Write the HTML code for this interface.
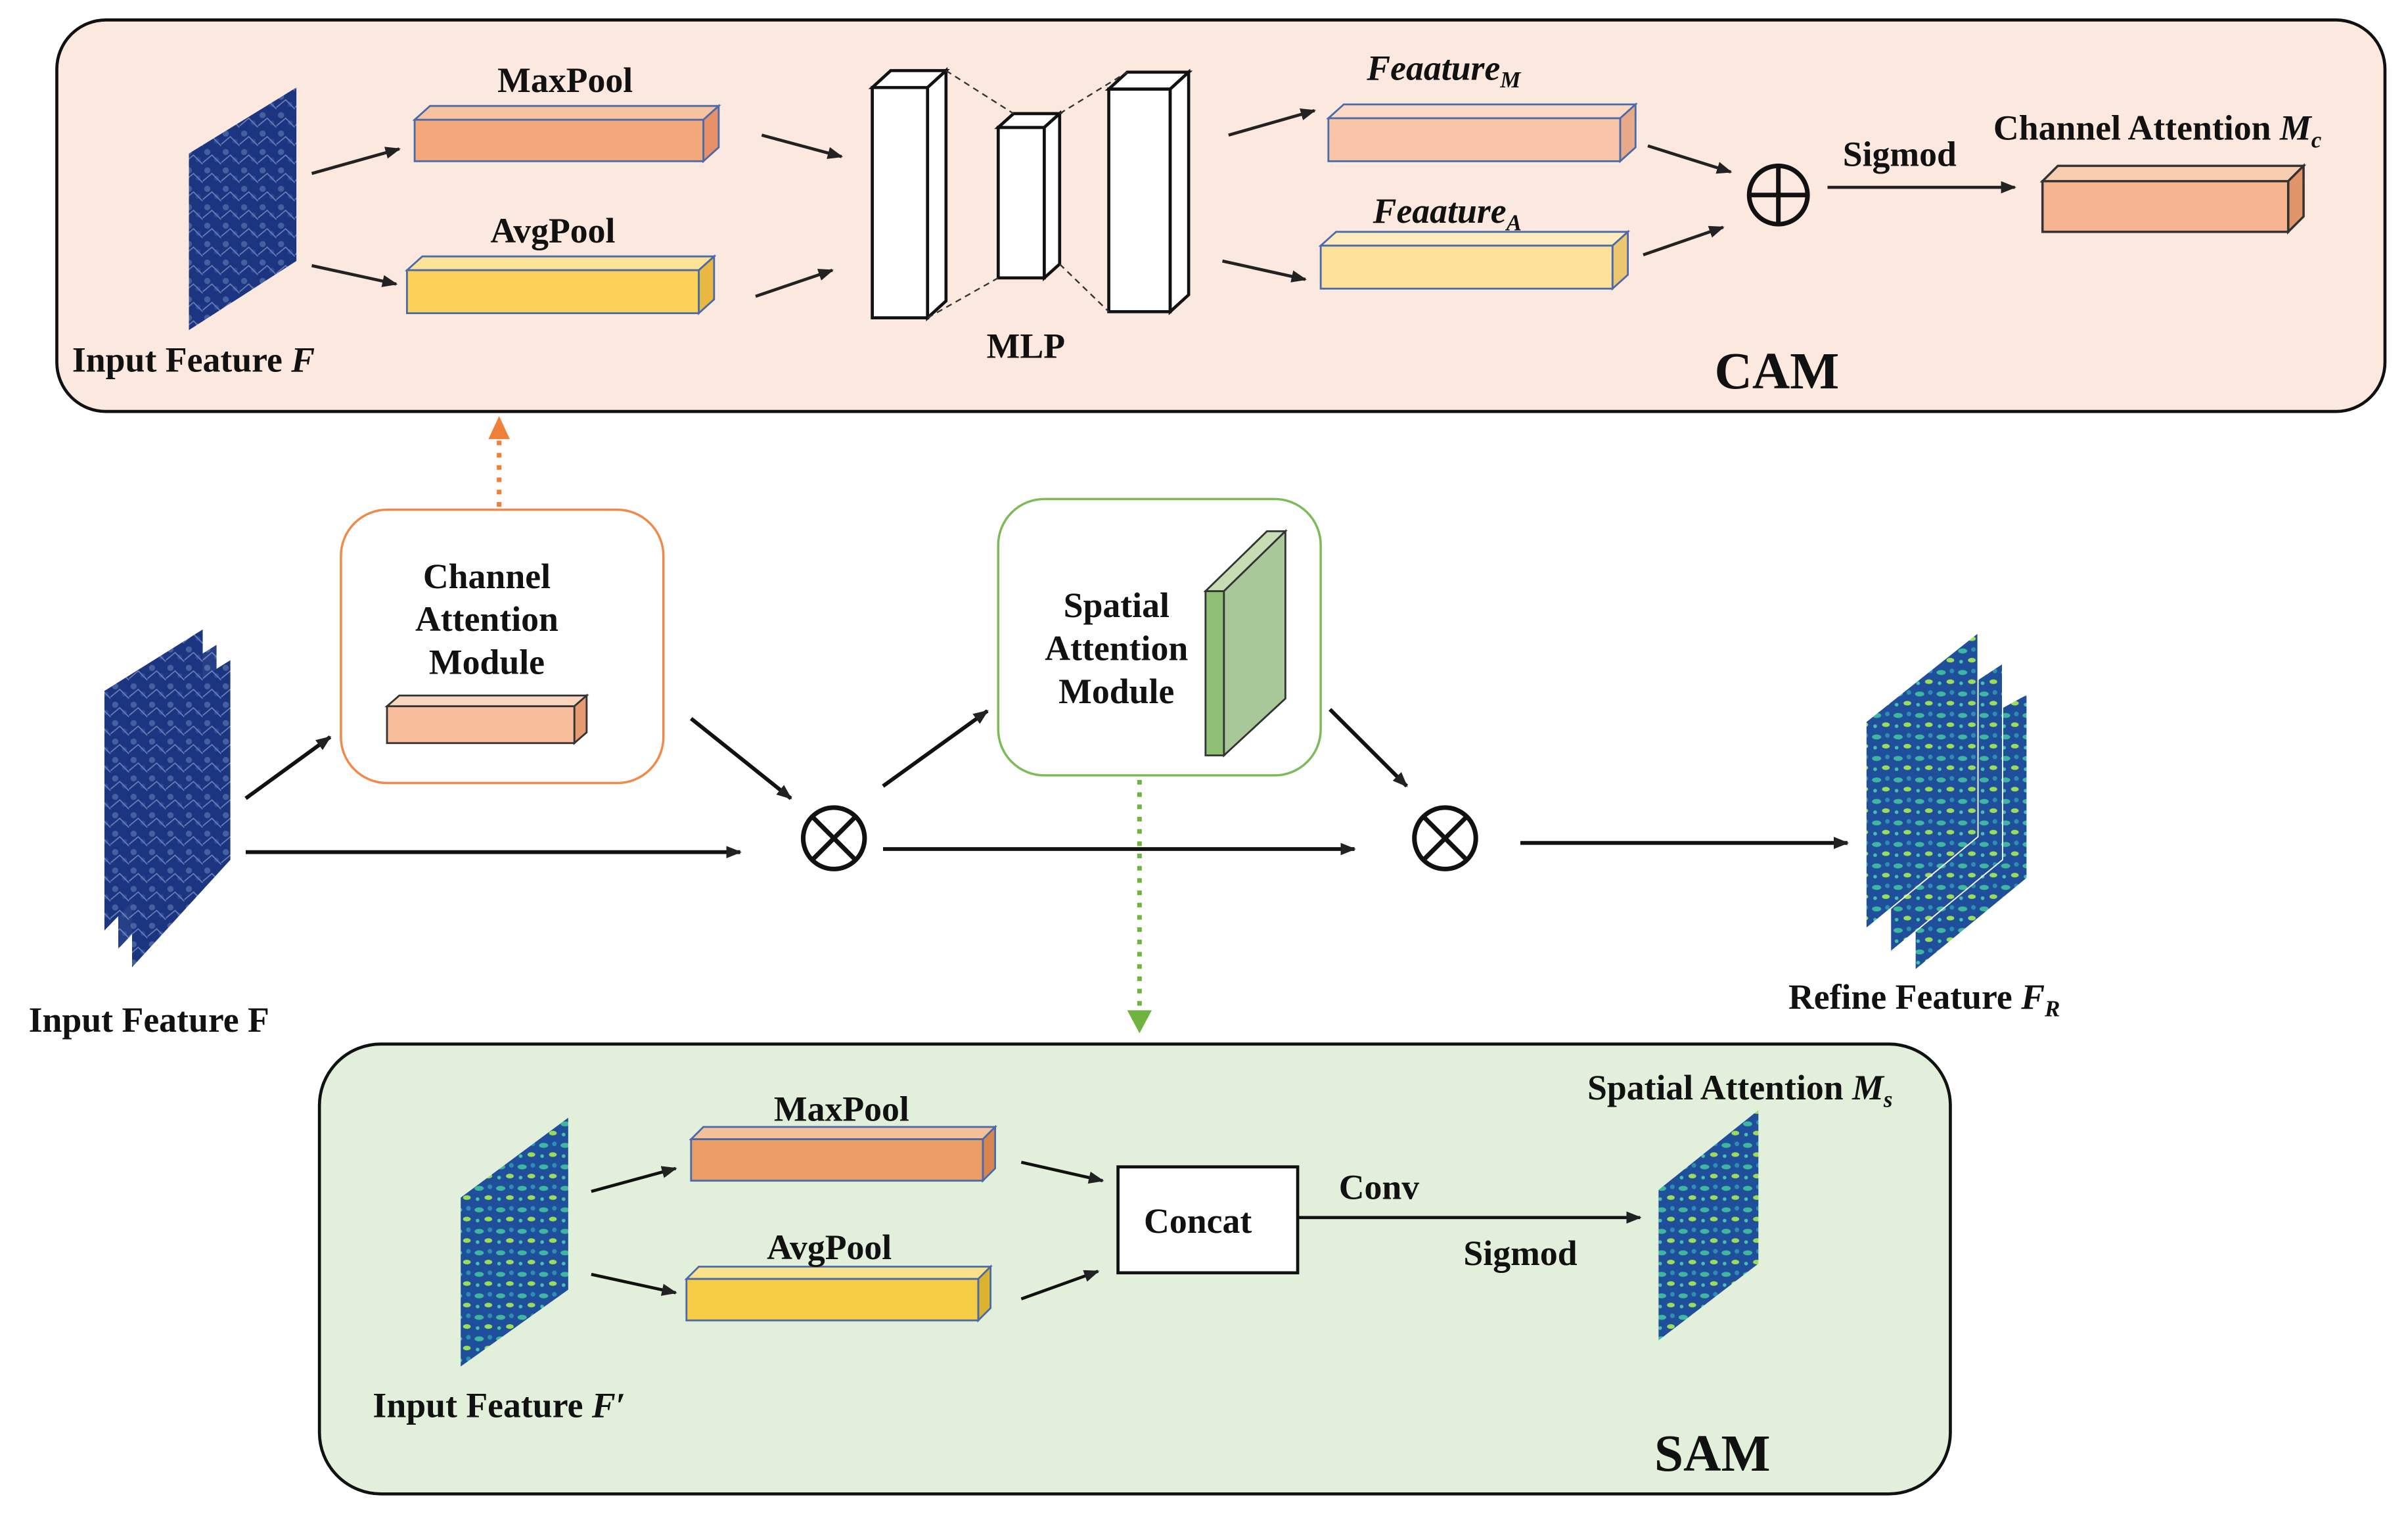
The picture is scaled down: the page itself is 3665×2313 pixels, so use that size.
<!DOCTYPE html>
<html><head><meta charset="utf-8"><style>
html,body{margin:0;padding:0;background:#fff;}
svg{display:block;}
text{font-family:"Liberation Serif",serif;font-weight:bold;fill:#111;}
</style></head><body>
<svg width="3665" height="2313" viewBox="0 0 1568 990" preserveAspectRatio="none" xmlns="http://www.w3.org/2000/svg">
<defs>
<marker id="ar" markerWidth="10" markerHeight="8" refX="9" refY="4" orient="auto" markerUnits="userSpaceOnUse"><path d="M0,0 L10,4 L0,8 z" fill="#222"/></marker>
<pattern id="fb" width="12" height="12" patternUnits="userSpaceOnUse">
<rect width="12" height="12" fill="#1c3580"/><circle cx="3" cy="3" r="2" fill="#45609f"/><circle cx="9" cy="8" r="1.6" fill="#2a4c98"/><path d="M0,10 L6,5 L12,11" stroke="#6f7fb8" stroke-width="0.7" fill="none"/></pattern>
<pattern id="fg" width="14" height="14" patternUnits="userSpaceOnUse">
<rect width="14" height="14" fill="#1f4f9a"/><ellipse cx="4" cy="4" rx="3" ry="1.6" fill="#3fb7a0"/><ellipse cx="10" cy="10" rx="2.5" ry="1.5" fill="#9bdc5a"/><circle cx="11" cy="3" r="1.5" fill="#2a8fb0"/><circle cx="3" cy="11" r="1.2" fill="#46c1b0"/></pattern>
</defs>
<g stroke-linecap="butt">
<!-- CAM -->
<rect x="37" y="13" width="1516" height="255" rx="32" fill="#fbe9e0" stroke="#111" stroke-width="2"/>
<polygon points="123,100 193,57 193,170 123,215" fill="url(#fb)"/>
<text x="47" y="242" font-size="23">Input Feature <tspan font-style="italic">F</tspan></text>
<g stroke="#4a6ba8" stroke-width="1.2">
<polygon points="270,78 458,78 468,69 280,69" fill="#f8c2a0"/><polygon points="458,78 468,69 468,96 458,105" fill="#e79068"/><rect x="270" y="78" width="188" height="27" fill="#f4a77a"/>
<polygon points="265,176 455,176 465,167 275,167" fill="#fde29a"/><polygon points="455,176 465,167 465,195 455,204" fill="#e8b840"/><rect x="265" y="176" width="190" height="28" fill="#fdd05a"/>
<polygon points="865,77 1055,77 1065,68 875,68" fill="#fbd9c4"/><polygon points="1055,77 1065,68 1065,96 1055,105" fill="#e8a88a"/><rect x="865" y="77" width="190" height="28" fill="#f8c5a8"/>
<polygon points="860,160 1050,160 1060,151 870,151" fill="#feecc0"/><polygon points="1050,160 1060,151 1060,179 1050,188" fill="#ecc670"/><rect x="860" y="160" width="190" height="28" fill="#fde19a"/>
</g>
<g stroke="#333" stroke-width="1.5">
<polygon points="1330,118 1490,118 1500,108 1340,108" fill="#f9cdb0"/><polygon points="1490,118 1500,108 1500,141 1490,151" fill="#e0946a"/><rect x="1330" y="118" width="160" height="33" fill="#f5b48f"/>
</g>
<text x="368" y="60" font-size="23" text-anchor="middle">MaxPool</text>
<text x="360" y="158" font-size="23" text-anchor="middle">AvgPool</text>
<g stroke="#222" stroke-width="2" marker-end="url(#ar)">
<line x1="203" y1="113" x2="260" y2="97"/><line x1="203" y1="173" x2="258" y2="185"/>
<line x1="496" y1="88" x2="548" y2="102"/><line x1="492" y1="193" x2="542" y2="176"/>
<line x1="800" y1="88" x2="856" y2="72"/><line x1="796" y1="170" x2="850" y2="182"/>
<line x1="1073" y1="95" x2="1127" y2="112"/><line x1="1070" y1="166" x2="1122" y2="148"/>
<line x1="1190" y1="122" x2="1312" y2="122"/>
</g>
<!-- MLP -->
<g stroke="#111" stroke-width="2" fill="#fff">
<rect x="568" y="57" width="36" height="150"/><polygon points="568,57 580,46 616,46 604,57"/><polygon points="604,57 616,46 616,196 604,207"/>
<rect x="650" y="83" width="30" height="98"/><polygon points="650,83 660,74 690,74 680,83"/><polygon points="680,83 690,74 690,172 680,181"/>
<rect x="722" y="58" width="40" height="145"/><polygon points="722,58 734,47 774,47 762,58"/><polygon points="762,58 774,47 774,192 762,203"/>
</g>
<g stroke="#333" stroke-width="1" stroke-dasharray="4,3">
<line x1="616" y1="46" x2="660" y2="74"/><line x1="604" y1="207" x2="650" y2="181"/>
<line x1="690" y1="74" x2="734" y2="47"/><line x1="690" y1="172" x2="722" y2="203"/>
</g>
<text x="668" y="233" font-size="23" text-anchor="middle">MLP</text>
<text x="890" y="52" font-size="23" font-style="italic">Feaature<tspan font-size="15" dy="5">M</tspan></text>
<text x="894" y="145" font-size="23" font-style="italic">Feaature<tspan font-size="15" dy="5">A</tspan></text>
<circle cx="1158" cy="127" r="19" fill="none" stroke="#111" stroke-width="3"/>
<line x1="1139" y1="127" x2="1177" y2="127" stroke="#111" stroke-width="3"/><line x1="1158" y1="108" x2="1158" y2="146" stroke="#111" stroke-width="3"/>
<text x="1237" y="108" font-size="23" text-anchor="middle">Sigmod</text>
<text x="1298" y="91" font-size="23">Channel Attention <tspan font-style="italic">M</tspan><tspan font-size="15" dy="5" font-style="italic">c</tspan></text>
<text x="1157" y="253" font-size="34" text-anchor="middle">CAM</text>

<!-- middle -->
<line x1="325" y1="330" x2="325" y2="285" stroke="#f07f3a" stroke-width="3" stroke-dasharray="3,5"/>
<polygon points="318,286 332,286 325,271" fill="#f07f3a"/>
<rect x="222" y="332" width="210" height="178" rx="30" fill="#fff" stroke="#f08a4b" stroke-width="1.5"/>
<text x="317" y="383" font-size="23" text-anchor="middle">Channel</text>
<text x="317" y="411" font-size="23" text-anchor="middle">Attention</text>
<text x="317" y="439" font-size="23" text-anchor="middle">Module</text>
<g stroke="#333" stroke-width="1.2"><polygon points="252,460 374,460 382,453 260,453" fill="#fbd6bf"/><polygon points="374,460 382,453 382,477 374,484" fill="#e69a72"/><rect x="252" y="460" width="122" height="24" fill="#f8bd9a"/></g>
<rect x="650" y="325" width="210" height="180" rx="30" fill="#fff" stroke="#7dbb5a" stroke-width="1.5"/>
<text x="727" y="402" font-size="23" text-anchor="middle">Spatial</text>
<text x="727" y="430" font-size="23" text-anchor="middle">Attention</text>
<text x="727" y="458" font-size="23" text-anchor="middle">Module</text>
<g stroke="#333" stroke-width="1.2"><polygon points="785,385 797,385 797,492 785,492" fill="#8fbf74"/><polygon points="785,385 825,346 837,346 797,385" fill="#c5dcb5"/><polygon points="797,385 837,346 837,455 797,492" fill="#a9c89a"/></g>
<polygon points="86,470 150,430 150,560 86,630" fill="url(#fb)"/>
<polygon points="77,460 141,420 141,550 77,618" fill="url(#fb)" opacity="0.95"/>
<polygon points="68,450 132,410 132,540 68,606" fill="url(#fb)"/>
<text x="97" y="672" font-size="23" text-anchor="middle">Input Feature F</text>
<g stroke="#111" stroke-width="2.5" marker-end="url(#ar)">
<line x1="160" y1="520" x2="215" y2="480"/><line x1="160" y1="555" x2="482" y2="555"/>
<line x1="450" y1="468" x2="515" y2="520"/><line x1="575" y1="512" x2="643" y2="463"/>
<line x1="575" y1="553" x2="882" y2="553"/><line x1="866" y1="462" x2="916" y2="512"/>
<line x1="990" y1="549" x2="1203" y2="549"/>
</g>
<g stroke="#111" stroke-width="3" fill="none">
<circle cx="543" cy="546" r="20"/><line x1="529" y1="532" x2="557" y2="560"/><line x1="557" y1="532" x2="529" y2="560"/>
<circle cx="941" cy="546" r="20"/><line x1="927" y1="532" x2="955" y2="560"/><line x1="955" y1="532" x2="927" y2="560"/>
</g>
<polygon points="1247,492 1320,452 1320,572 1247,632" fill="url(#fg)" stroke="#fff" stroke-width="0.8"/>
<polygon points="1231,480 1304,432 1304,560 1231,620" fill="url(#fg)" stroke="#fff" stroke-width="0.8"/>
<polygon points="1215,470 1288,412 1288,545 1215,605" fill="url(#fg)" stroke="#fff" stroke-width="0.8"/>
<text x="1253" y="657" font-size="23" text-anchor="middle">Refine Feature <tspan font-style="italic">F</tspan><tspan font-size="15" dy="5" font-style="italic">R</tspan></text>
<line x1="742" y1="508" x2="742" y2="658" stroke="#6fb43f" stroke-width="3" stroke-dasharray="3,5"/>
<polygon points="734,658 750,658 742,673" fill="#6fb43f"/>

<!-- SAM -->
<rect x="208" y="680" width="1062" height="293" rx="40" fill="#e2efda" stroke="#111" stroke-width="2"/>
<polygon points="300,780 370,728 370,840 300,890" fill="url(#fg)"/>
<text x="325" y="923" font-size="23" text-anchor="middle">Input Feature <tspan font-style="italic">F′</tspan></text>
<g stroke="#4a6ba8" stroke-width="1.2">
<polygon points="450,742 640,742 648,734 458,734" fill="#f3c09a"/><polygon points="640,742 648,734 648,761 640,769" fill="#d9864e"/><rect x="450" y="742" width="190" height="27" fill="#eb9e66"/>
<polygon points="447,833 637,833 645,825 455,825" fill="#fbe08a"/><polygon points="637,833 645,825 645,852 637,860" fill="#dcb330"/><rect x="447" y="833" width="190" height="27" fill="#f6cd44"/>
</g>
<text x="548" y="730" font-size="23" text-anchor="middle">MaxPool</text>
<text x="540" y="820" font-size="23" text-anchor="middle">AvgPool</text>
<g stroke="#111" stroke-width="2" marker-end="url(#ar)">
<line x1="385" y1="776" x2="440" y2="761"/><line x1="385" y1="830" x2="440" y2="842"/>
<line x1="665" y1="757" x2="718" y2="769"/><line x1="665" y1="846" x2="715" y2="828"/>
<line x1="845" y1="793" x2="1068" y2="793"/>
</g>
<rect x="728" y="760" width="117" height="69" fill="#fff" stroke="#111" stroke-width="2"/>
<text x="780" y="803" font-size="23" text-anchor="middle">Concat</text>
<text x="898" y="781" font-size="23" text-anchor="middle">Conv</text>
<text x="990" y="824" font-size="23" text-anchor="middle">Sigmod</text>
<polygon points="1080,775 1145,723 1145,823 1080,873" fill="url(#fg)"/>
<text x="1133" y="716" font-size="23" text-anchor="middle">Spatial Attention <tspan font-style="italic">M</tspan><tspan font-size="15" dy="5" font-style="italic">s</tspan></text>
<text x="1115" y="958" font-size="34" text-anchor="middle">SAM</text>
</g>
</svg>
</body></html>
